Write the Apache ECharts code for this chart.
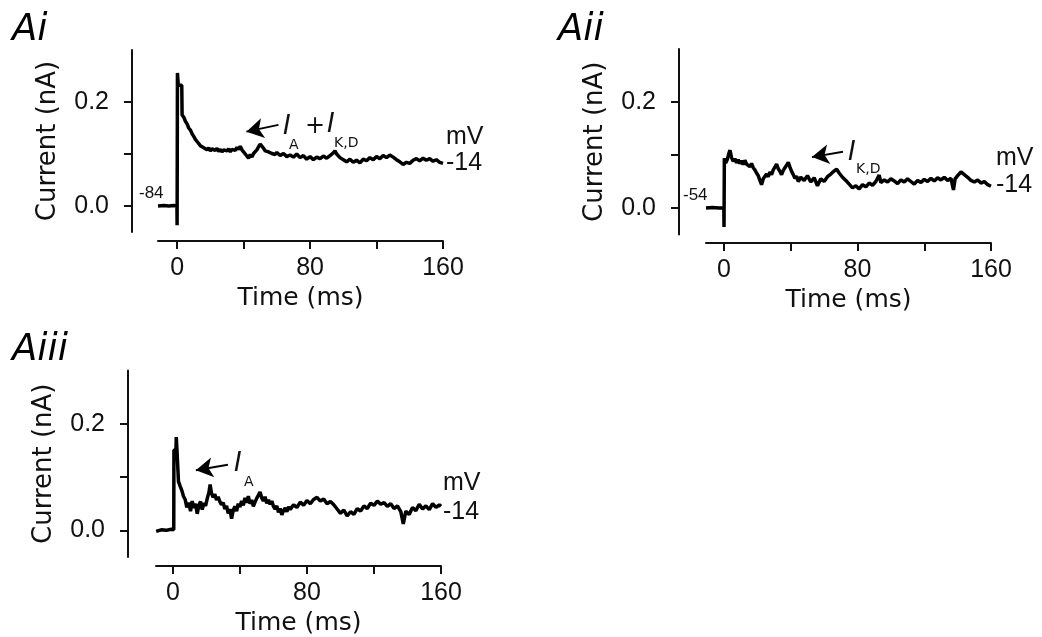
<!DOCTYPE html>
<html>
<head>
<meta charset="utf-8">
<script src="https://cdn.jsdelivr.net/npm/echarts@6/dist/echarts.min.js"></script>
<style>
  html, body { margin: 0; padding: 0; background: #fff; }
  #main { width: 1042px; height: 637px; }
</style>
</head>
<body>
<div id="main"></div>
<script>
// panel Ai : step to -14 mV from -84 mV
var aiTime = [-11.5, -8, -5, -2, -0.1, 0, 0.2, 0.7, 2.8, 3.0,
  4, 5, 6, 7, 8, 9, 10, 11, 12, 13, 14, 15, 16, 17, 18, 19, 20, 21, 22, 23, 24, 25, 26, 27, 28, 29,
  30, 31, 32, 33, 34, 35, 36, 37, 38, 39, 40, 41, 42, 43, 44, 45, 46, 47, 48, 49, 50, 51, 52, 53,
  54, 55, 56, 57, 58, 59, 60, 62, 64, 66, 68, 70, 72, 74, 76, 78, 80, 82, 84, 86, 88, 90, 92, 94,
  95, 96, 98, 100, 102, 104, 106, 108, 110, 112, 114, 116, 118, 120, 122, 124, 126, 128, 130, 132,
  134, 136, 138, 140, 142, 144, 146, 148, 150, 152, 154, 156, 158, 160];
var aiCurrent = [0, 0.001, 0, 0.001, 0, -0.037, 0.256, 0.232, 0.232, 0.175,
  0.171, 0.163, 0.158, 0.150, 0.146, 0.139, 0.134, 0.128, 0.124, 0.121, 0.116, 0.118, 0.112, 0.114,
  0.108, 0.112, 0.106, 0.110, 0.113, 0.107, 0.111, 0.105, 0.109, 0.104, 0.108, 0.111,
  0.106, 0.110, 0.104, 0.109, 0.112, 0.107, 0.113, 0.109, 0.115, 0.108, 0.104, 0.100, 0.097, 0.092,
  0.099, 0.094, 0.101, 0.099, 0.108, 0.114, 0.119, 0.115, 0.111, 0.106,
  0.109, 0.104, 0.107, 0.101, 0.104, 0.099, 0.103, 0.097, 0.101, 0.095, 0.098, 0.094, 0.100, 0.093,
  0.097, 0.090, 0.095, 0.089, 0.094, 0.091, 0.096, 0.092, 0.097, 0.102,
  0.106, 0.100, 0.093, 0.089, 0.085, 0.090, 0.084, 0.088, 0.083, 0.090, 0.087, 0.093, 0.089, 0.095,
  0.091, 0.097, 0.093, 0.098, 0.094, 0.089,
  0.085, 0.080, 0.084, 0.082, 0.088, 0.091, 0.087, 0.092, 0.088, 0.091, 0.086, 0.089, 0.084, 0.082];

// panel Aii : step to -14 mV from -54 mV
var aiiTime = [-10.8, -7, -3, -0.1, 0, 0.2, 1, 2, 3, 3.6, 4.5, 5.5,
  6.5, 7.5, 8.5, 9.5, 10.5, 11.5, 12.5, 13.5, 14.5, 15.5, 16.5, 17.5, 18.5, 19.5, 20.5, 21.5, 22.5,
  23.5, 24.5, 25.5, 26.5, 27.5, 28.5, 29.5, 30.5, 31.5, 32.5, 33.5, 34.5, 35.5, 36.5, 37.5, 38.5,
  39.5, 40.5, 41.5, 42.5, 43.5, 44.5, 46, 48, 50, 52, 54, 56, 58, 60, 62, 64, 66, 67.5, 69, 71, 73,
  75, 77, 79, 81, 83, 85, 87, 89, 91, 93, 94, 96, 98, 100, 102, 104, 106, 108, 110, 112, 114, 116,
  118, 120, 122, 124, 126, 128, 130, 132, 134, 136, 137.5, 138.5, 140, 142, 144, 146, 148, 150,
  152, 154, 156, 158, 160];
var aiiCurrent = [0, 0.001, 0, 0, -0.036, 0.094, 0.085, 0.092, 0.104, 0.109, 0.095, 0.088,
  0.093, 0.085, 0.091, 0.084, 0.089, 0.082, 0.090, 0.083, 0.086, 0.078, 0.084, 0.076, 0.072, 0.066,
  0.061, 0.052, 0.044, 0.055, 0.058, 0.064, 0.059, 0.068, 0.063, 0.072, 0.077, 0.083, 0.074, 0.069,
  0.063, 0.071, 0.076, 0.081, 0.086, 0.077, 0.069, 0.063, 0.056, 0.060, 0.050, 0.058, 0.052, 0.061,
  0.049, 0.057, 0.042, 0.055, 0.050, 0.059, 0.064, 0.070, 0.073, 0.066, 0.058, 0.052, 0.045, 0.038,
  0.042, 0.036, 0.044, 0.040, 0.047, 0.043, 0.050, 0.062, 0.048, 0.053, 0.049, 0.055, 0.051, 0.046,
  0.053, 0.049, 0.055, 0.050, 0.045, 0.052, 0.048, 0.054, 0.050, 0.056, 0.051, 0.057, 0.053, 0.058,
  0.052, 0.056, 0.034, 0.055, 0.061, 0.068, 0.063, 0.058, 0.052, 0.049, 0.053, 0.047, 0.050, 0.044,
  0.041];

// panel Aiii : A-type current only
var aiiiTime = [-10, -7, -4, -1, 0.5, 0.6, 1.8, 2.0, 2.4, 3.2, 3.3, 4.3, 5.3, 6.3, 7.3, 8.3,
  9.5, 10.5, 11.5, 12.5, 13.5, 14.5, 15.5, 16.5, 17.5, 18.5, 19.5, 20.5, 21.5, 22.2, 23, 24, 25,
  26, 27, 28, 29, 30, 31, 32, 33, 34, 35, 36, 37, 38, 39, 40, 41, 42, 43, 44, 45, 46, 47, 48, 49,
  50, 51, 52, 53, 54, 55, 56, 57, 58, 59, 60, 61, 62, 63, 64, 65, 66, 67, 68, 69, 70, 72, 74, 76,
  78, 80, 82, 84, 86, 88, 90, 92, 94, 96, 98, 100, 102, 104, 106, 108, 110, 112, 114, 116, 118,
  120, 122, 124, 126, 128, 130, 132, 134, 136, 137.5, 139, 141, 143, 145, 147, 149, 151, 153,
  155, 157, 159, 160];
var aiiiCurrent = [-0.002, 0.001, 0, 0.002, 0.001, 0.151, 0.151, 0.175, 0.152, 0.150, 0.092, 0.083,
  0.075, 0.064, 0.058, 0.043,
  0.052, 0.036, 0.055, 0.042, 0.050, 0.031, 0.047, 0.054, 0.039, 0.051, 0.046, 0.060, 0.071, 0.086,
  0.070, 0.062, 0.068, 0.057, 0.063, 0.054, 0.048, 0.052, 0.040, 0.046, 0.032, 0.040, 0.022, 0.038,
  0.045, 0.036, 0.050, 0.044, 0.055, 0.047, 0.061, 0.052, 0.064, 0.050, 0.057, 0.045, 0.053,
  0.060, 0.066, 0.072, 0.061, 0.055, 0.063, 0.051, 0.057, 0.049, 0.055, 0.045, 0.040, 0.046, 0.034,
  0.041, 0.029, 0.037, 0.042, 0.035, 0.044, 0.039, 0.048, 0.043, 0.053,
  0.047, 0.056, 0.050, 0.058, 0.062, 0.055, 0.059, 0.050, 0.054, 0.048, 0.040, 0.032, 0.038, 0.027,
  0.035, 0.030, 0.041, 0.036, 0.046, 0.041, 0.051,
  0.047, 0.055, 0.049, 0.052, 0.045, 0.050, 0.041, 0.046, 0.035, 0.012, 0.036, 0.030, 0.043, 0.037,
  0.049, 0.040, 0.046, 0.039, 0.050, 0.043, 0.048, 0.045];

var timeTicks = [0, 40, 80, 120, 160];
var timeLabels = [0, 80, 160];
var currentTicks = [0, 0.1, 0.2];
var currentLabels = [0, 0.2];

// arrows pointing at the traces: [tail, head] in [ms, nA]
var arrowAi = [[61, 0.156], [41.7, 0.143]];
var arrowAii = [[71.3, 0.106], [52.7, 0.096]];
var arrowAiii = [[32.8, 0.123], [13.7, 0.113]];

var FONT = 'DejaVu Sans';
var NUM = 'Liberation Sans';
var INK = '#111';

function pair(t, c) {
  return t.map(function (v, i) { return [v, c[i]]; });
}

function xAx(idx, min, offset) {
  return {
    gridIndex: idx, type: 'value', min: min, max: 160, offset: offset,
    axisLine: { onZero: false, lineStyle: { color: INK, width: 2 } },
    axisTick: { customValues: timeTicks, length: 8, lineStyle: { color: INK, width: 2 } },
    axisLabel: { customValues: timeLabels, margin: 15, fontSize: 25, color: '#111', fontFamily: NUM },
    splitLine: { show: false },
    name: 'Time (ms)', nameLocation: 'middle', nameGap: 45,
    nameTextStyle: { fontSize: 25, color: '#111', fontFamily: FONT }
  };
}

function yAx(idx, offset) {
  return {
    gridIndex: idx, type: 'value', min: -0.05, max: 0.3, offset: offset,
    axisLine: { show: true, onZero: false, lineStyle: { color: INK, width: 2 } },
    axisTick: { show: true, customValues: currentTicks, length: 8, lineStyle: { color: INK, width: 2 } },
    axisLabel: {
      customValues: currentLabels, margin: 23, fontSize: 25, color: '#111', fontFamily: NUM,
      formatter: function (v) { return v.toFixed(1); }
    },
    splitLine: { show: false },
    name: 'Current (nA)', nameLocation: 'middle', nameGap: 71,
    nameTextStyle: { fontSize: 26, color: '#111', fontFamily: FONT }
  };
}

function trace(idx, t, c, arrow) {
  return {
    type: 'line', xAxisIndex: idx, yAxisIndex: idx,
    data: pair(t, c), showSymbol: false, silent: true, animation: false,
    lineStyle: { color: '#000', width: 3.5 },
    markLine: {
      silent: true, animation: false, symbolSize: [15, 17],
      lineStyle: { color: '#000', width: 2, type: 'solid' },
      label: { show: false },
      data: [[
        { coord: arrow[0], symbol: 'none' },
        { coord: arrow[1], symbol: 'arrow' }
      ]]
    }
  };
}

function txt(x, y, s, size, extra) {
  var st = { text: s, fontSize: size, fontFamily: FONT, fill: '#111', verticalAlign: 'middle' };
  if (extra) { for (var k in extra) st[k] = extra[k]; }
  return { type: 'text', x: x, y: y, silent: true, style: st };
}

var dom = document.getElementById('main');
var myChart = echarts.init(dom, null, { renderer: 'canvas' });

var option = {
  animation: false,
  backgroundColor: '#fff',
  grid: [
    { left: 158, top: 50, width: 285, height: 182 },
    { left: 706, top: 49, width: 285, height: 185.5 },
    { left: 156, top: 370.5, width: 285, height: 187.5 }
  ],
  xAxis: [xAx(0, -11.5, 9), xAx(1, -10.8, 8.5), xAx(2, -10.1, 9)],
  yAxis: [yAx(0, 26), yAx(1, 27), yAx(2, 28)],
  series: [
    trace(0, aiTime, aiCurrent, arrowAi),
    trace(1, aiiTime, aiiCurrent, arrowAii),
    trace(2, aiiiTime, aiiiCurrent, arrowAiii)
  ],
  graphic: [
    // panel letters
    txt(12, 30, 'Ai', 37, { fontStyle: 'italic', fill: '#000' }),
    txt(558, 30, 'Aii', 37, { fontStyle: 'italic', fill: '#000' }),
    txt(12, 350, 'Aiii', 37, { fontStyle: 'italic', fill: '#000' }),
    // holding and test potentials
    txt(139, 193, '-84', 17, { fontFamily: NUM }),
    txt(683, 195, '-54', 17, { fontFamily: NUM }),
    txt(446, 137, 'mV', 25, { fontFamily: NUM }), txt(446, 163, '-14', 25, { fontFamily: NUM }),
    txt(996, 158, 'mV', 25, { fontFamily: NUM }), txt(996, 185, '-14', 25, { fontFamily: NUM }),
    txt(443, 483, 'mV', 25, { fontFamily: NUM }), txt(443, 512, '-14', 25, { fontFamily: NUM }),
    // current labels
    txt(283, 127, 'I', 26, { fontStyle: 'italic' }),
    txt(289, 145, 'A', 14),
    txt(305, 127, '+', 24),
    txt(327, 125, 'I', 26, { fontStyle: 'italic' }),
    txt(334, 143, 'K,D', 14),
    txt(848, 153, 'I', 26, { fontStyle: 'italic' }),
    txt(856, 169, 'K,D', 14),
    txt(234, 464, 'I', 26, { fontStyle: 'italic' }),
    txt(244, 482, 'A', 14)
  ]
};

if (option && typeof option === 'object') {
  myChart.setOption(option);
}

window.addEventListener('resize', myChart.resize);
</script>
</body>
</html>
